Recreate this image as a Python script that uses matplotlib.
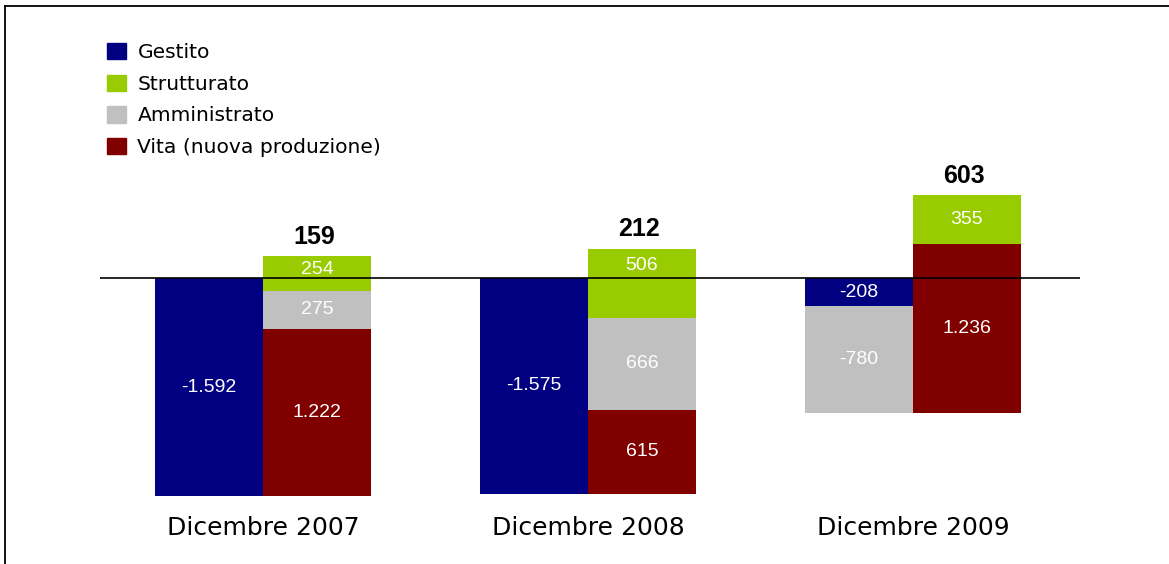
import matplotlib
matplotlib.use("Agg")
import matplotlib.pyplot as plt
from matplotlib.patches import Patch
from matplotlib.lines import Line2D

# net flows by product line (EUR mln)
years = ["Dicembre 2007", "Dicembre 2008", "Dicembre 2009"]
series = ["Gestito", "Strutturato", "Amministrato", "Vita (nuova produzione)"]
gestito = [-1592, -1575, -208]
strutturato = [254, 506, 355]
amministrato = [275, 666, -780]
vita = [1222, 615, 1236]

COLORS = {"Gestito": "#000080", "Strutturato": "#99cc00",
          "Amministrato": "#c0c0c0", "Vita (nuova produzione)": "#800000"}
NUM_FONT = "Liberation Sans"


def it_fmt(v):
    return f"{v:,}".replace(",", ".")


fig = plt.figure(figsize=(11.69, 5.64), dpi=100)
ax = fig.add_axes([100 / 1169, 64 / 564, 980 / 1169, 350 / 564])
w = 0.332

for i in range(len(years)):
    # stacking order: Gestito first, other negatives next, then positives
    segs = [("Gestito", gestito[i]), ("Vita (nuova produzione)", vita[i]),
            ("Amministrato", amministrato[i]), ("Strutturato", strutturato[i])]
    segs = [segs[0]] + sorted(segs[1:], key=lambda s: s[1] >= 0)
    run = 0
    for name, v in segs:
        x = i - w / 2 if v < 0 else i + w / 2
        bottom = run
        ax.bar(x, v, w, bottom=bottom, color=COLORS[name], zorder=2)
        lo, hi = sorted((bottom, bottom + v))
        ymid = (lo + hi) / 2
        if name == "Strutturato" and lo < 0 < hi:
            ymid = hi / 2 - 15
        ax.text(x, ymid, it_fmt(v), ha="center", va="center", color="white",
                fontsize=14, family=NUM_FONT, zorder=4)
        run += v
    ax.annotate(it_fmt(run), (i + w / 2, run), xytext=(-2, 9),
                textcoords="offset points", ha="center", va="baseline",
                fontsize=18, fontweight="bold", family=NUM_FONT)

ax.axhline(0, color="black", lw=1.2, zorder=3)
ax.set_xlim(-0.5015, 2.514)
ax.set_ylim(-(500 - 278) / 0.137, (278 - 150) / 0.137)
ax.set_xticks(range(len(years)))
ax.set_xticklabels(years, fontsize=18, family="DejaVu Sans")
ax.tick_params(axis="x", length=0, pad=11.5)
ax.set_yticks([])
for s in ax.spines.values():
    s.set_visible(False)

handles = [Patch(color=COLORS[s]) for s in series]
fig.legend(handles, series, loc="upper left", bbox_to_anchor=(107 / 1169, 1 - 43 / 564),
           frameon=False, fontsize=14.6, handlelength=0.95, handleheight=0.85,
           handletextpad=0.55, labelspacing=0.62, borderpad=0, borderaxespad=0)

# outer frame (top and left edges only)
fig.add_artist(Line2D([5 / 1169, 1], [1 - 6 / 564] * 2, color="black", lw=1.3))
fig.add_artist(Line2D([5 / 1169] * 2, [0, 1 - 6 / 564], color="black", lw=1.3))

fig.savefig("out.png", dpi=100)
